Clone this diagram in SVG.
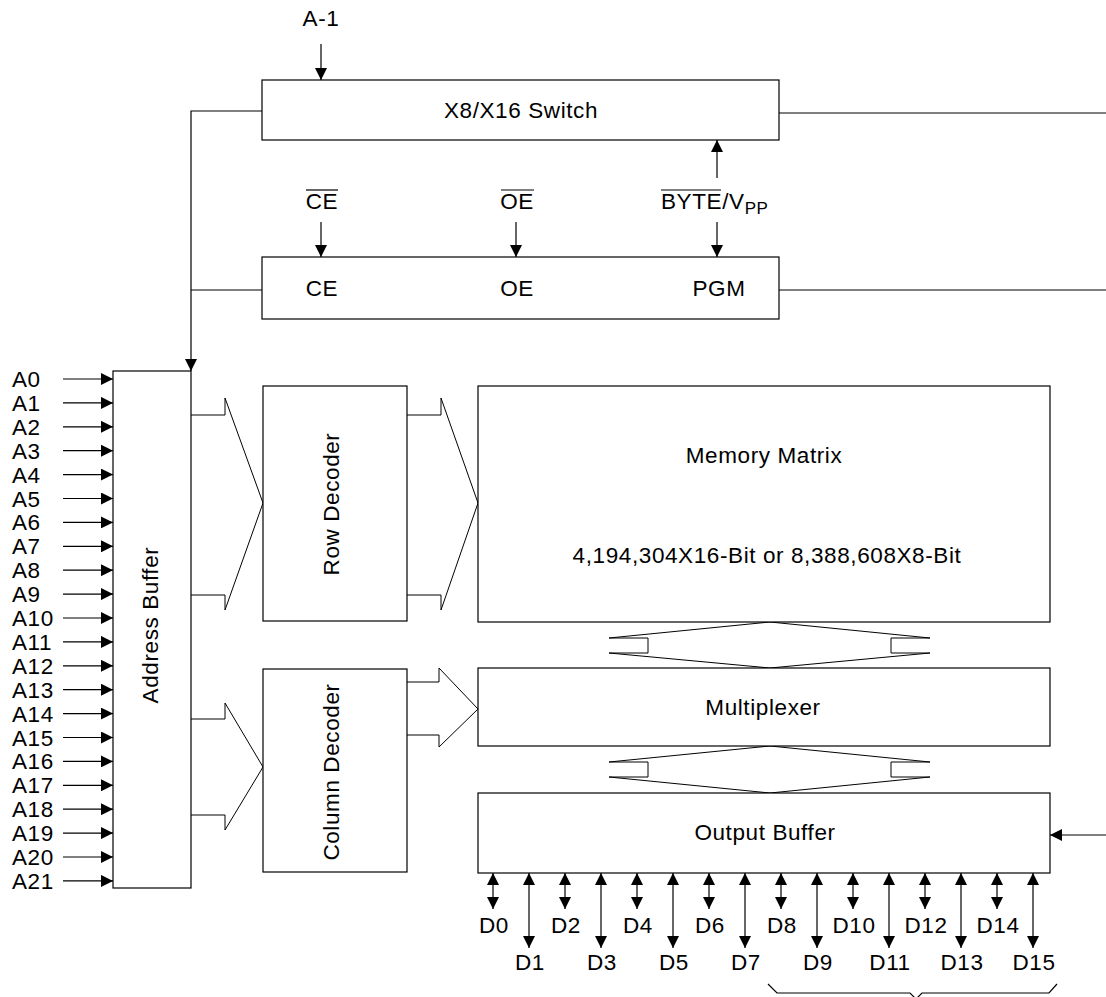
<svg xmlns="http://www.w3.org/2000/svg" width="1106" height="997" viewBox="0 0 1106 997">
<style>
text{font-family:"Liberation Sans",Arial,sans-serif;font-size:22.5px;letter-spacing:0.6px;fill:#000}
.m{text-anchor:middle}
.box{fill:#fff;stroke:#000;stroke-width:1.2}
.ln{fill:none;stroke:#000;stroke-width:1.2}
.ar{fill:none;stroke:#000;stroke-width:1.2;marker-end:url(#ah)}
.da{fill:none;stroke:#000;stroke-width:1.2;marker-end:url(#ah);marker-start:url(#ah)}
.hol{fill:#fff;stroke:#000;stroke-width:1}
</style>
<defs>
<marker id="ah" markerUnits="userSpaceOnUse" markerWidth="12" markerHeight="12" refX="12" refY="6" orient="auto-start-reverse">
<path d="M0,0 L12,6 L0,12 z" fill="#000"/>
</marker>
</defs>

<g id="connectors">
<line class="ar" x1="321" y1="44" x2="321" y2="80"/>
<polyline class="ar" points="262,111 191,111 191,371"/>
<line class="ln" x1="191" y1="290" x2="262" y2="290"/>
<line class="ln" x1="779" y1="113" x2="1106" y2="113"/>
<line class="ln" x1="779" y1="290" x2="1106" y2="290"/>
<line class="ar" x1="717" y1="178" x2="717" y2="140"/>
<line class="ar" x1="321" y1="222" x2="321" y2="257"/>
<line class="ar" x1="516" y1="222" x2="516" y2="257"/>
<line class="ar" x1="717" y1="222" x2="717" y2="257"/>
<line class="ar" x1="1106" y1="835" x2="1050" y2="835"/>
<line class="ar" x1="63" y1="379" x2="113" y2="379"/>
<line class="ar" x1="63" y1="402.9" x2="113" y2="402.9"/>
<line class="ar" x1="63" y1="426.8" x2="113" y2="426.8"/>
<line class="ar" x1="63" y1="450.7" x2="113" y2="450.7"/>
<line class="ar" x1="63" y1="474.6" x2="113" y2="474.6"/>
<line class="ar" x1="63" y1="498.5" x2="113" y2="498.5"/>
<line class="ar" x1="63" y1="522.4" x2="113" y2="522.4"/>
<line class="ar" x1="63" y1="546.3" x2="113" y2="546.3"/>
<line class="ar" x1="63" y1="570.2" x2="113" y2="570.2"/>
<line class="ar" x1="63" y1="594.1" x2="113" y2="594.1"/>
<line class="ar" x1="63" y1="618" x2="113" y2="618"/>
<line class="ar" x1="63" y1="641.9" x2="113" y2="641.9"/>
<line class="ar" x1="63" y1="665.8" x2="113" y2="665.8"/>
<line class="ar" x1="63" y1="689.7" x2="113" y2="689.7"/>
<line class="ar" x1="63" y1="713.6" x2="113" y2="713.6"/>
<line class="ar" x1="63" y1="737.5" x2="113" y2="737.5"/>
<line class="ar" x1="63" y1="761.4" x2="113" y2="761.4"/>
<line class="ar" x1="63" y1="785.3" x2="113" y2="785.3"/>
<line class="ar" x1="63" y1="809.2" x2="113" y2="809.2"/>
<line class="ar" x1="63" y1="833.1" x2="113" y2="833.1"/>
<line class="ar" x1="63" y1="857" x2="113" y2="857"/>
<line class="ar" x1="63" y1="880.9" x2="113" y2="880.9"/>
<polyline class="hol" points="191,415 225,415 225,398 263,503 225,610 225,595 191,595"/>
<polyline class="hol" points="407,415 441,415 441,398 478,503 441,610 441,595 407,595"/>
<polyline class="hol" points="191,719 225,719 225,703 263,767 225,830 225,815 191,815"/>
<polyline class="hol" points="407,682 439,682 439,668 478,709 439,747 439,735 407,735"/>
<path class="hol" d="M609,638 L770,622 L930,638 L891,638 L891,653 L930,653 L770,668 L609,653 L648,653 L648,638 Z"/>
<path class="hol" d="M609,762 L770,746 L930,762 L891,762 L891,777 L930,777 L770,793 L609,777 L648,777 L648,762 Z"/>
<line class="da" x1="493" y1="873" x2="493" y2="909"/>
<line class="da" x1="529" y1="873" x2="529" y2="948"/>
<line class="da" x1="565" y1="873" x2="565" y2="909"/>
<line class="da" x1="601" y1="873" x2="601" y2="948"/>
<line class="da" x1="637" y1="873" x2="637" y2="909"/>
<line class="da" x1="673" y1="873" x2="673" y2="948"/>
<line class="da" x1="709" y1="873" x2="709" y2="909"/>
<line class="da" x1="745" y1="873" x2="745" y2="948"/>
<line class="da" x1="781" y1="873" x2="781" y2="909"/>
<line class="da" x1="817" y1="873" x2="817" y2="948"/>
<line class="da" x1="853" y1="873" x2="853" y2="909"/>
<line class="da" x1="889" y1="873" x2="889" y2="948"/>
<line class="da" x1="925" y1="873" x2="925" y2="909"/>
<line class="da" x1="961" y1="873" x2="961" y2="948"/>
<line class="da" x1="997" y1="873" x2="997" y2="909"/>
<line class="da" x1="1033" y1="873" x2="1033" y2="948"/>
<polyline class="ln" stroke-width="1" points="768,984 777,993 910,993 916,999 922,993 1049,993 1057,984"/>
</g>

<g id="switch">
<rect class="box" x="262" y="80" width="517" height="60"/>
<text class="m" x="521" y="118">X8/X16 Switch</text>
</g>

<g id="control">
<rect class="box" x="262" y="257" width="517" height="62"/>
<text class="m" x="322" y="296">CE</text>
<text class="m" x="517" y="296">OE</text>
<text class="m" x="719" y="296">PGM</text>
</g>

<g id="labels">
<text class="m" x="321" y="26">A-1</text>
<text class="m" x="322" y="209">CE</text>
<line class="ln" x1="306" y1="190" x2="338" y2="190"/>
<text class="m" x="517" y="209">OE</text>
<line class="ln" x1="501" y1="190" x2="534" y2="190"/>
<text x="661" y="209">BYTE/V<tspan font-size="17" dy="5">PP</tspan></text>
<line class="ln" x1="661" y1="190" x2="721" y2="190"/>
</g>

<g id="address-labels">
<text x="12" y="387">A0</text>
<text x="12" y="410.9">A1</text>
<text x="12" y="434.8">A2</text>
<text x="12" y="458.7">A3</text>
<text x="12" y="482.6">A4</text>
<text x="12" y="506.5">A5</text>
<text x="12" y="530.4">A6</text>
<text x="12" y="554.3">A7</text>
<text x="12" y="578.2">A8</text>
<text x="12" y="602.1">A9</text>
<text x="12" y="626">A10</text>
<text x="12" y="649.9">A11</text>
<text x="12" y="673.8">A12</text>
<text x="12" y="697.7">A13</text>
<text x="12" y="721.6">A14</text>
<text x="12" y="745.5">A15</text>
<text x="12" y="769.4">A16</text>
<text x="12" y="793.3">A17</text>
<text x="12" y="817.2">A18</text>
<text x="12" y="841.1">A19</text>
<text x="12" y="865">A20</text>
<text x="12" y="888.9">A21</text>
</g>

<g id="address-buffer">
<rect class="box" x="113" y="371" width="78" height="517"/>
<text class="m" transform="translate(150,625) rotate(-90)" x="0" y="8">Address Buffer</text>
</g>

<g id="row-decoder">
<rect class="box" x="263" y="386" width="144" height="235"/>
<text class="m" transform="translate(331,504) rotate(-90)" x="0" y="8">Row Decoder</text>
</g>

<g id="column-decoder">
<rect class="box" x="263" y="669" width="144" height="203"/>
<text class="m" transform="translate(331,772) rotate(-90)" x="0" y="8">Column Decoder</text>
</g>

<g id="memory-matrix">
<rect class="box" x="478" y="386" width="572" height="236"/>
<text class="m" x="764" y="463">Memory Matrix</text>
<text class="m" x="767" y="563">4,194,304X16-Bit or 8,388,608X8-Bit</text>
</g>

<g id="multiplexer">
<rect class="box" x="478" y="668" width="572" height="78"/>
<text class="m" x="763" y="715">Multiplexer</text>
</g>

<g id="output-buffer">
<rect class="box" x="478" y="793" width="572" height="80"/>
<text class="m" x="765" y="840">Output Buffer</text>
</g>

<g id="data-labels">
<text class="m" x="494" y="933">D0</text>
<text class="m" x="530" y="970">D1</text>
<text class="m" x="566" y="933">D2</text>
<text class="m" x="602" y="970">D3</text>
<text class="m" x="638" y="933">D4</text>
<text class="m" x="674" y="970">D5</text>
<text class="m" x="710" y="933">D6</text>
<text class="m" x="746" y="970">D7</text>
<text class="m" x="782" y="933">D8</text>
<text class="m" x="818" y="970">D9</text>
<text class="m" x="854" y="933">D10</text>
<text class="m" x="890" y="970">D11</text>
<text class="m" x="926" y="933">D12</text>
<text class="m" x="962" y="970">D13</text>
<text class="m" x="998" y="933">D14</text>
<text class="m" x="1034" y="970">D15</text>
</g>
</svg>
